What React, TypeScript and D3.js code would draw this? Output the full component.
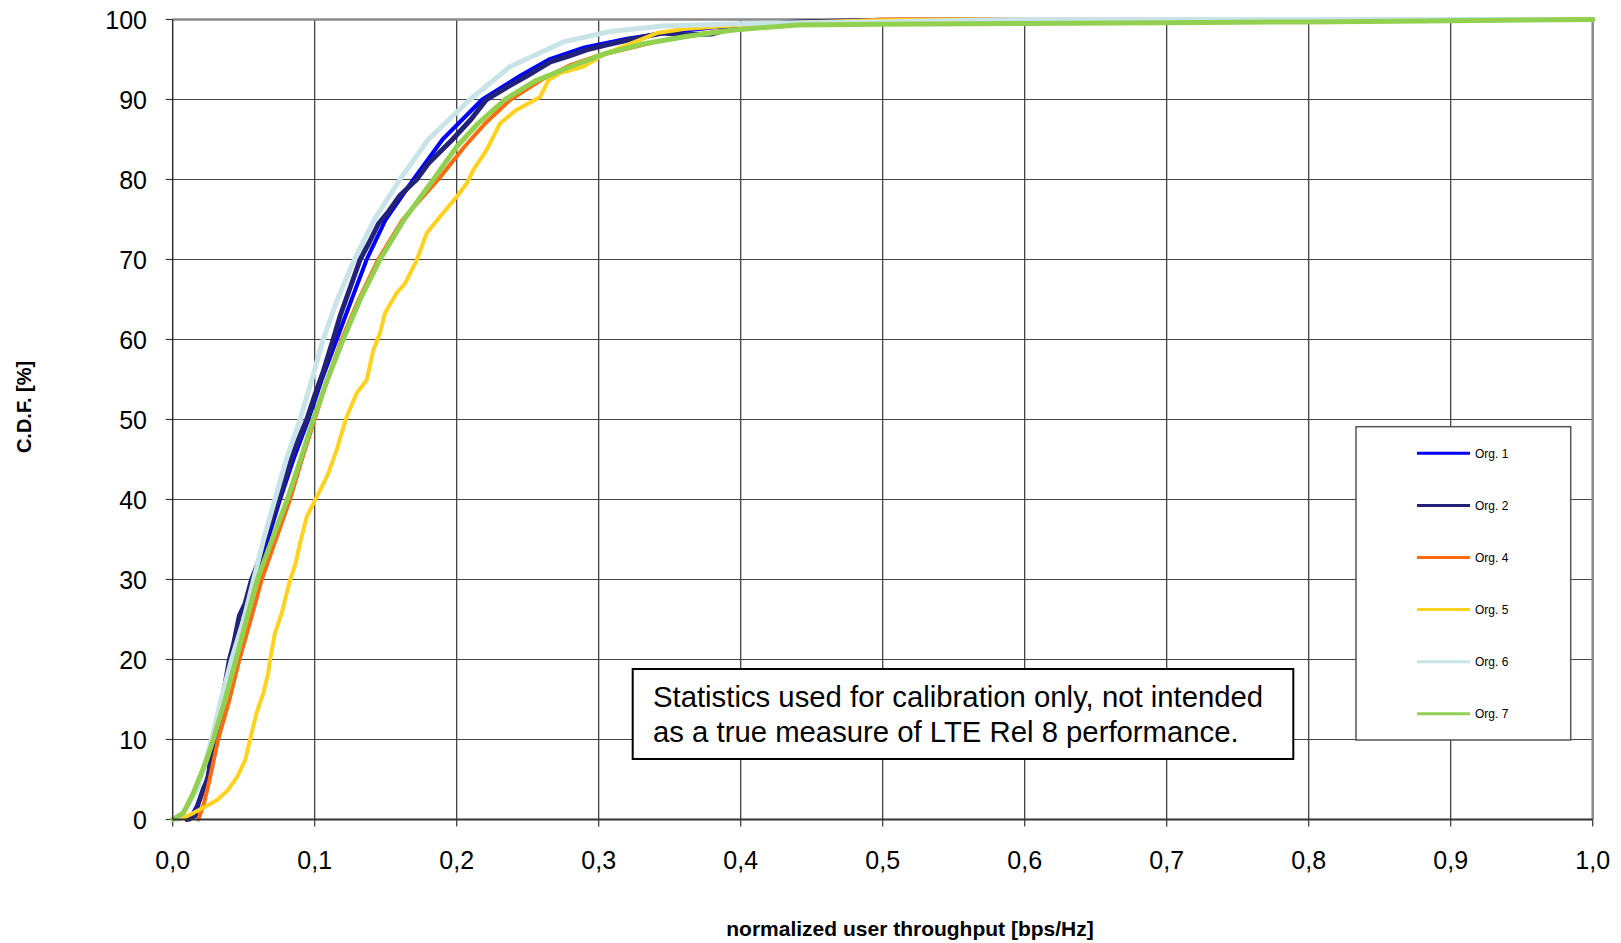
import React from 'react';
import * as d3 from 'd3';

// tick labels
const xTicks = [0, 0.1, 0.2, 0.3, 0.4, 0.5, 0.6, 0.7, 0.8, 0.9, 1.0];
const yTicks = [0, 10, 20, 30, 40, 50, 60, 70, 80, 90, 100];

// series: [throughput, cdf %]
const org1 = [
  [0.012, 0], [0.018, 2], [0.024, 5], [0.031, 10], [0.037, 15], [0.0427, 20], [0.05, 25],
  [0.058, 30], [0.067, 35], [0.0756, 40], [0.085, 45], [0.0955, 50], [0.105, 55], [0.1155, 60],
  [0.126, 65], [0.1366, 70], [0.15, 75], [0.1695, 80], [0.19, 85], [0.218, 90], [0.245, 93],
  [0.265, 95], [0.29, 96.5], [0.32, 97.6], [0.35, 98.4], [0.38, 99], [0.42, 99.4], [0.47, 99.7],
  [0.55, 99.9], [0.62, 100], [1.0, 100],
];
const org2 = [
  [0.01, 0], [0.016, 0.5], [0.018, 2], [0.022, 4], [0.025, 5], [0.028, 10], [0.032, 13],
  [0.036, 16], [0.04, 20], [0.043, 22], [0.047, 25.5], [0.051, 27], [0.0556, 30], [0.06, 32],
  [0.065, 35], [0.0744, 40], [0.08, 43], [0.085, 46], [0.0944, 50], [0.1, 53], [0.106, 56],
  [0.113, 60], [0.118, 63], [0.124, 66], [0.132, 70], [0.138, 72], [0.145, 74.5], [0.152, 76],
  [0.16, 78], [0.1718, 80], [0.18, 82], [0.197, 85], [0.21, 87.5], [0.221, 90], [0.235, 91.5],
  [0.249, 92.9], [0.266, 94.7], [0.28, 95.5], [0.2915, 96.2], [0.305, 96.8], [0.32, 97.4],
  [0.345, 98.3], [0.36, 98.1], [0.38, 98.2], [0.4, 99.2], [0.44, 99.7], [0.5, 99.9], [0.63, 100],
  [1.0, 100],
];
const org4 = [
  [0.018, 0], [0.022, 2], [0.026, 5], [0.032, 10], [0.04, 15], [0.047, 20], [0.055, 25],
  [0.0627, 30], [0.0726, 35], [0.0826, 40], [0.091, 45], [0.1, 50], [0.109, 55], [0.119, 60],
  [0.131, 65], [0.1447, 70], [0.162, 75], [0.187, 80], [0.205, 84], [0.22, 87], [0.238, 90],
  [0.26, 92.5], [0.28, 94.3], [0.3, 95.5], [0.34, 97.2], [0.38, 98.4], [0.42, 99.1], [0.46, 99.6],
  [0.5, 100], [1.0, 100],
];
const org5 = [
  [0.005, 0], [0.0145, 0.8], [0.0227, 1.6], [0.031, 2.4], [0.039, 3.7], [0.0455, 5.35],
  [0.051, 7.4], [0.0544, 9.9], [0.059, 13.3], [0.0638, 15.8], [0.0673, 18.3], [0.0685, 19.9],
  [0.072, 23.3], [0.0768, 25.8], [0.0803, 28.3], [0.0826, 29.9], [0.0865, 32], [0.0896, 34.5],
  [0.0944, 37.85], [0.1002, 39.9], [0.1073, 42.4], [0.1096, 43.3], [0.1155, 46.2], [0.119, 48.3],
  [0.1225, 50.35], [0.1296, 53.3], [0.1366, 54.9], [0.1413, 58.7], [0.146, 60.8], [0.1495, 63.3],
  [0.1577, 65.8], [0.1636, 67], [0.1718, 69.9], [0.1789, 73.3], [0.1882, 75.35], [0.2, 77.85],
  [0.207, 79.5], [0.2117, 81.2], [0.2211, 83.7], [0.2305, 87], [0.242, 88.7], [0.2587, 90.3],
  [0.2645, 92.4], [0.2727, 93.3], [0.289, 94.1], [0.3056, 95.8], [0.341, 98.3], [0.36, 98.8],
  [0.4, 99.3], [0.45, 99.7], [0.5, 99.9], [0.55, 100], [1.0, 100],
];
const org6 = [
  [0.003, 0], [0.01, 1.5], [0.018, 4], [0.0274, 10], [0.034, 15], [0.0415, 20], [0.05, 25],
  [0.057, 30], [0.064, 35], [0.072, 40], [0.08, 45], [0.0897, 50], [0.098, 55], [0.106, 60],
  [0.116, 65], [0.128, 70], [0.142, 75], [0.16, 80], [0.18, 85], [0.2094, 90], [0.2375, 94.1],
  [0.275, 97.2], [0.308, 98.5], [0.345, 99.2], [0.407, 99.5], [0.5, 99.7], [0.6, 100], [1.0, 100],
];
const org7 = [
  [0, 0], [0.0075, 0.8], [0.0145, 3.3], [0.024, 7.5], [0.0286, 10], [0.037, 15], [0.0446, 20],
  [0.052, 25], [0.0596, 30], [0.07, 35], [0.0807, 40], [0.09, 45], [0.099, 50], [0.109, 55],
  [0.12, 60], [0.132, 65], [0.146, 70], [0.163, 75], [0.1836, 80], [0.2, 84.1], [0.215, 87],
  [0.234, 90], [0.255, 92.3], [0.28, 94.1], [0.3056, 95.8], [0.33, 96.9], [0.36, 97.85],
  [0.395, 98.7], [0.44, 99.3], [0.5, 99.4], [0.6, 99.5], [0.7, 99.6], [0.8, 99.7], [0.9, 99.85],
  [1.0, 100],
];

const seriesNames = ['Org. 1', 'Org. 2', 'Org. 4', 'Org. 5', 'Org. 6', 'Org. 7'];
const seriesData = [org1, org2, org4, org5, org6, org7];
const colors = ['#0000FF', '#22227A', '#FF6A10', '#FFD21E', '#C8E4E8', '#92D050'];
const widths = [4, 5, 4, 4, 5, 5];

const W = 1621;
const H = 943;
const left = 172.7, right = 1592.7, top = 19.5, bottom = 819.5;

export default function App() {
  const x = d3.scaleLinear().domain([0, 1]).range([left, right]);
  const y = d3.scaleLinear().domain([0, 100]).range([bottom, top]);
  const line = d3.line<number[]>().x(d => x(d[0])).y(d => y(d[1]));

  const font = 'Arial, "Liberation Sans", sans-serif';
  const legX = 1356, legY = 426.7, legW = 214.7, legH = 313.3;

  return (
    <svg width={W} height={H} style={{ position: 'absolute', left: 0, top: 0, background: '#fff' }}
      fontFamily={font}>
      <rect x={0} y={0} width={W} height={H} fill="#fff" />

      {/* grid */}
      {xTicks.slice(1, -1).map(t => (
        <line key={'gx' + t} x1={x(t)} x2={x(t)} y1={top} y2={bottom} stroke="#333" strokeWidth={1.2} />
      ))}
      {yTicks.slice(1, -1).map(t => (
        <line key={'gy' + t} x1={left} x2={right} y1={y(t)} y2={y(t)} stroke="#444" strokeWidth={1.2} />
      ))}
      <line x1={left} x2={right} y1={top} y2={top} stroke="#8a8a8a" strokeWidth={2.5} />
      <line x1={right} x2={right} y1={top} y2={bottom} stroke="#8a8a8a" strokeWidth={2.5} />

      {/* ticks */}
      {xTicks.map(t => (
        <line key={'tx' + t} x1={x(t)} x2={x(t)} y1={bottom} y2={bottom + 7} stroke="#333" strokeWidth={1.2} />
      ))}
      {yTicks.map(t => (
        <line key={'ty' + t} x1={left - 7} x2={left} y1={y(t)} y2={y(t)} stroke="#333" strokeWidth={1.2} />
      ))}

      {/* series */}
      {seriesData.map((s, i) => (
        <path key={seriesNames[i]} d={line(s) || ''} fill="none" stroke={colors[i]}
          strokeWidth={widths[i]} strokeLinejoin="round" strokeLinecap="round" />
      ))}

      {/* axes */}
      <line x1={left} x2={left} y1={top} y2={bottom} stroke="#333" strokeWidth={1.5} />
      <line x1={left} x2={right} y1={bottom} y2={bottom} stroke="#333" strokeWidth={2} />

      {/* tick labels */}
      {xTicks.map(t => (
        <text key={'lx' + t} x={x(t)} y={869} textAnchor="middle" fontSize={25} fill="#000">
          {t.toFixed(1).replace('.', ',')}
        </text>
      ))}
      {yTicks.map(t => (
        <text key={'ly' + t} x={147} y={y(t)} dy="0.36em" textAnchor="end" fontSize={25} fill="#000">
          {t}
        </text>
      ))}

      {/* axis titles */}
      <text x={910} y={936} textAnchor="middle" fontSize={21} fontWeight="bold" fill="#000">
        normalized user throughput [bps/Hz]
      </text>
      <text transform="translate(31,407) rotate(-90)" textAnchor="middle" fontSize={20} fontWeight="bold" fill="#000">
        C.D.F. [%]
      </text>

      {/* legend */}
      <rect x={legX} y={legY} width={legW} height={legH} fill="#fff" stroke="#555" strokeWidth={1.5} />
      {seriesNames.map((n, i) => {
        const ly = 453.3 + i * 52.1;
        return (
          <g key={'leg' + n}>
            <line x1={1417} x2={1470} y1={ly} y2={ly} stroke={colors[i]} strokeWidth={3} />
            <text x={1475} y={ly} dy="0.36em" fontSize={12} fill="#000">{n}</text>
          </g>
        );
      })}

      {/* note */}
      <rect x={632.7} y={669} width={660.6} height={90} fill="#fff" stroke="#000" strokeWidth={2} />
      <text x={653} y={706.5} fontSize={29.3} fill="#000">Statistics used for calibration only, not intended</text>
      <text x={653} y={742.3} fontSize={29.3} fill="#000">as a true measure of LTE Rel 8 performance.</text>
    </svg>
  );
}
